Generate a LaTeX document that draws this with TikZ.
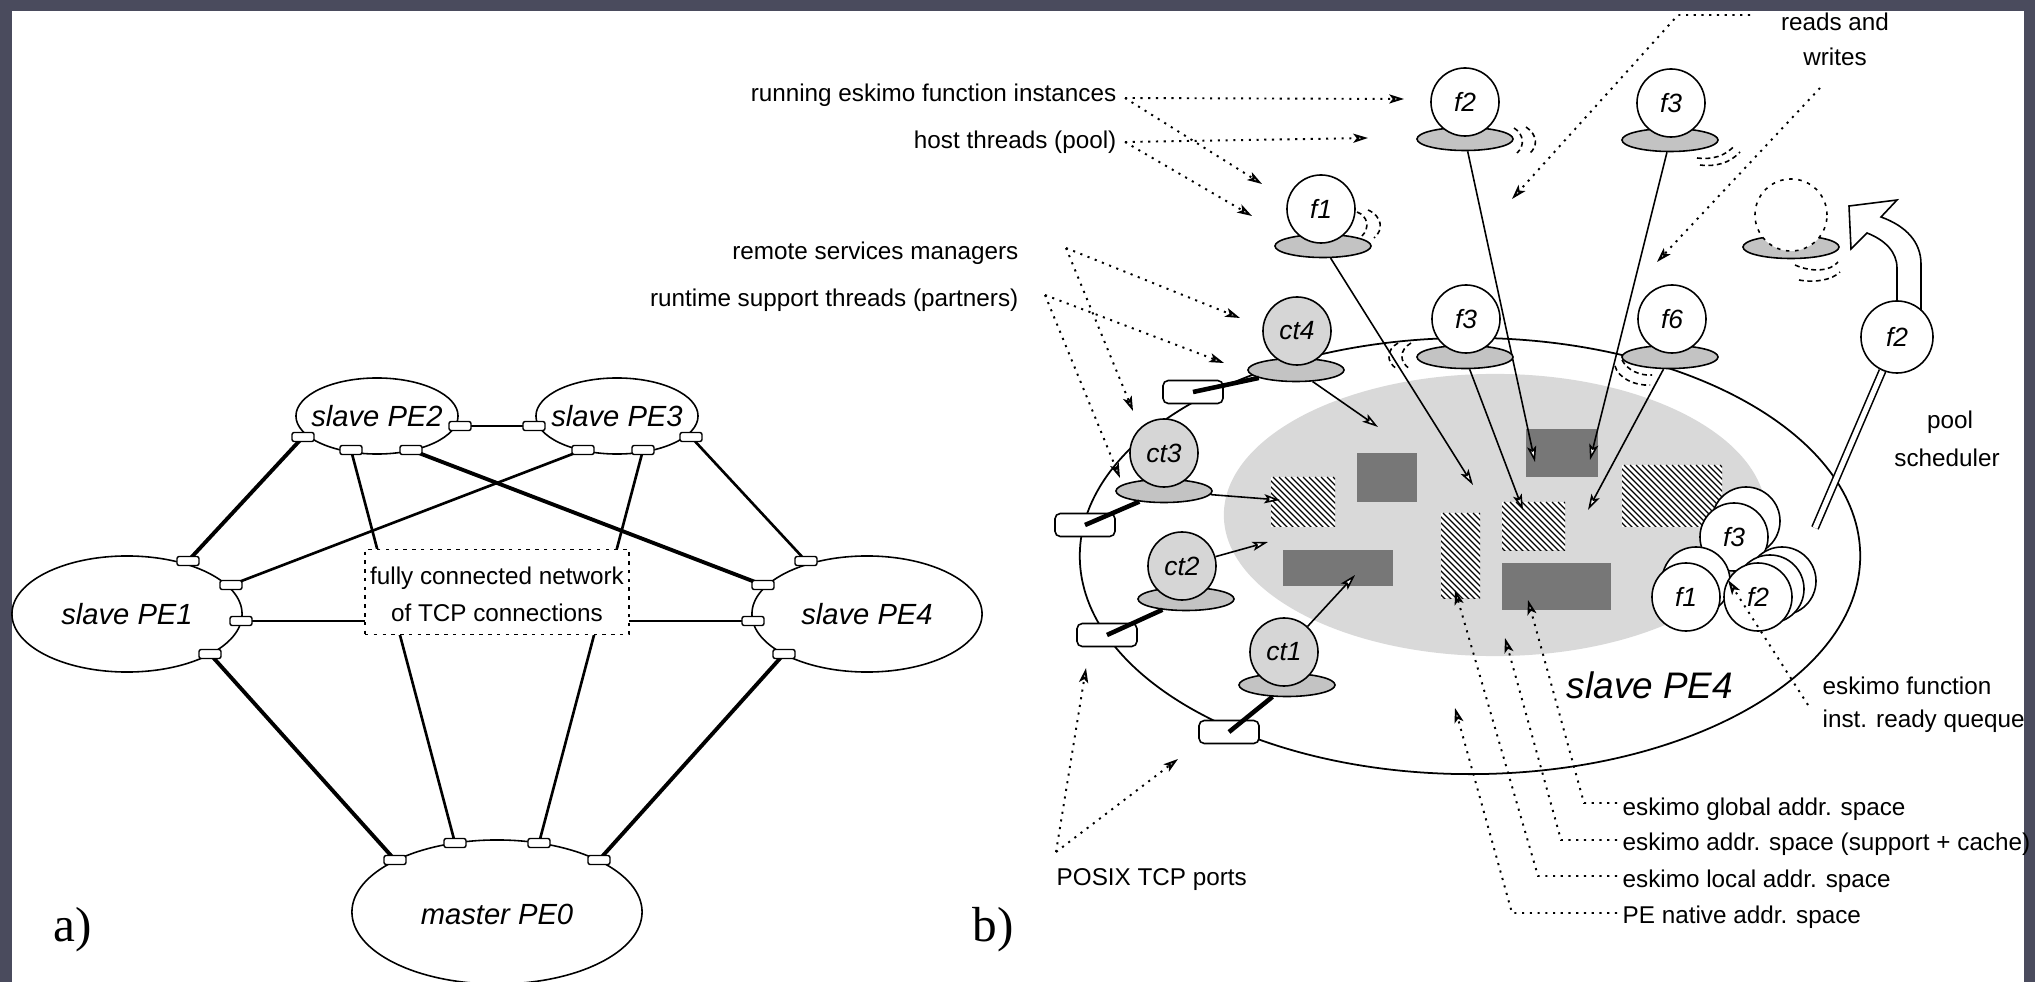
\documentclass[tikz,border=0pt]{standalone}
\usepackage{fontspec}
\setmainfont{Liberation Sans}
\newfontfamily\captionserif{Liberation Serif}
\usetikzlibrary{shapes.geometric,arrows.meta}

\definecolor{framegrey}{HTML}{4A4B5D}
\definecolor{spacegrey}{HTML}{D9D9D9}
\definecolor{globalgrey}{HTML}{777777}
\definecolor{basegrey}{HTML}{C3C3C3}
\definecolor{threadgrey}{HTML}{D6D6D6}

\pgfdeclarelayer{fills}
\pgfdeclarelayer{wires}
\pgfsetlayers{fills,wires,main}

% hatched (local address space) block: x0 y0 x1 y1
\newcommand\hatchrect[4]{%
  \begin{scope}
    \fill[white] (#1,#2) rectangle (#3,#4);
    \clip (#1,#2) rectangle (#3,#4);
    \foreach \k in {-100,-94,...,120}
      \draw[line width=0.35pt] ({#1+\k},#2) -- ++(130,130);
  \end{scope}}

\begin{document}
\begin{tikzpicture}[x=0.01cm, y=-0.01cm,
  every node/.style={inner sep=0pt},
  txt/.style={font=\fontsize{6.9}{8}\selectfont},
  pe/.style={draw, ellipse, fill=white, line width=0.45pt},
  petext/.style={font=\fontsize{8.3}{10}\selectfont\itshape},
  peport/.style={draw, fill=white, rounded corners=0.6pt, minimum width=0.22cm, minimum height=0.09cm, line width=0.4pt},
  linkthin/.style={line width=0.5pt},
  linkmed/.style={line width=0.75pt},
  linkthick/.style={line width=1.1pt},
  fthread/.style={draw, circle, fill=white, minimum size=0.68cm, line width=0.45pt, font=\fontsize{7.5}{9}\selectfont\itshape},
  cthread/.style={fthread, fill=threadgrey},
  hostbase/.style={draw, ellipse, fill=basegrey, minimum width=0.96cm, minimum height=0.23cm, line width=0.45pt},
  tcpport/.style={draw, fill=white, rounded corners=1.5pt, minimum width=0.6cm, minimum height=0.23cm, line width=0.45pt},
  access/.style={line width=0.45pt, -{Stealth[fill=white, length=4.5pt, width=2.6pt, inset=1pt]}},
  lead/.style={line width=0.55pt, dash pattern=on 0.6pt off 1.6pt},
  leadtip/.style={lead, -{Stealth[fill=white, length=4.2pt, width=2.6pt, inset=1pt]}},
  rw/.style={line width=0.45pt, dash pattern=on 1.4pt off 1pt},
  portwire/.style={line width=1.3pt},
]

\useasboundingbox (0,0) rectangle (2035,982);

% ---------------- page frame ----------------
\begin{pgfonlayer}{fills}
  \fill[framegrey] (0,0) rectangle (2035,982);
  \fill[white] (12,11) rectangle (2024,982);
\end{pgfonlayer}

% ================= a) network of PEs =================
\node[pe, minimum width=2.30cm, minimum height=1.16cm] (pe1) at (127,614) {};
\node[pe, minimum width=1.62cm, minimum height=0.76cm] (pe2) at (377,416) {};
\node[pe, minimum width=1.62cm, minimum height=0.76cm] (pe3) at (617,416) {};
\node[pe, minimum width=2.30cm, minimum height=1.16cm] (pe4) at (867,614) {};
\node[pe, minimum width=2.90cm, minimum height=1.44cm] (pe0) at (497,912) {};
\node[petext] (pe1t) at (pe1) {slave PE1};
\node[petext] (pe2t) at (pe2) {slave PE2};
\node[petext] (pe3t) at (pe3) {slave PE3};
\node[petext] (pe4t) at (pe4) {slave PE4};
\node[petext] (pe0t) at (497,914) {master PE0};

% network box
\node[draw, fill=white, dash pattern=on 1pt off 1.5pt, line width=0.5pt,
      minimum width=2.64cm, minimum height=0.85cm] (net) at (497,592) {};
\node[txt] (net1) at (497,578) {fully connected network};
\node[txt] (net2) at (497,613) {of TCP connections};

% TCP ports on each PE
\node[peport] (q11) at (188,561) {};
\node[peport] (q12) at (231,585) {};
\node[peport] (q13) at (241,621) {};
\node[peport] (q14) at (210,654) {};
\node[peport] (q21) at (303,437) {};
\node[peport] (q22) at (351,450) {};
\node[peport] (q23) at (411,450) {};
\node[peport] (q24) at (460,426) {};
\node[peport] (q31) at (534,426) {};
\node[peport] (q32) at (583,450) {};
\node[peport] (q33) at (643,450) {};
\node[peport] (q34) at (691,437) {};
\node[peport] (q41) at (806,561) {};
\node[peport] (q42) at (763,585) {};
\node[peport] (q43) at (753,621) {};
\node[peport] (q44) at (784,654) {};
\node[peport] (q01) at (395,860) {};
\node[peport] (q02) at (455,843) {};
\node[peport] (q03) at (539,843) {};
\node[peport] (q04) at (599,860) {};

\begin{pgfonlayer}{wires}
  \draw[linkthick] (q11.center) -- (q21.center);
  \draw[linkmed]   (q12.center) -- (q32.center);
  \draw[linkthin]  (q13.center) -- (q43.center);
  \draw[linkthick] (q14.center) -- (q01.center);
  \draw[linkthin]  (q24.center) -- (q31.center);
  \draw[linkmed]   (q22.center) -- (q02.center);
  \draw[linkthick] (q23.center) -- (q42.center);
  \draw[linkmed]   (q33.center) -- (q03.center);
  \draw[linkmed]   (q34.center) -- (q41.center);
  \draw[linkthick] (q44.center) -- (q04.center);
\end{pgfonlayer}

\node[font=\captionserif\fontsize{14}{16}\selectfont] (capa) at (73,930) {a)};

% ================= b) inside one slave PE =================
\begin{pgfonlayer}{fills}
  \node[draw, ellipse, line width=0.5pt, minimum width=7.80cm, minimum height=4.36cm] (pe4b) at (1470,556) {};
  \node[ellipse, fill=spacegrey, minimum width=5.42cm, minimum height=2.82cm] (espace) at (1495,515) {};
  % global (shared) blocks
  \fill[globalgrey] (1357,453) rectangle (1417,502);
  \fill[globalgrey] (1526,429) rectangle (1598,477);
  \fill[globalgrey] (1283,550) rectangle (1393,586);
  \fill[globalgrey] (1502,563) rectangle (1611,610);
  % local blocks
  \hatchrect{1271}{477}{1335}{527}
  \hatchrect{1622}{465}{1722}{527}
  \hatchrect{1502}{502}{1565}{550}
  \hatchrect{1441}{513}{1480}{598}
\end{pgfonlayer}

\node[font=\fontsize{10.5}{12}\selectfont\itshape] (pe4bt) at (1650,685) {slave PE4};

% host threads with running function instances
\node[hostbase] (f1b)  at (1323,246) {};
\node[fthread]  (f1)   at (1321,209) {f1};
\node[hostbase] (f2tb) at (1465,139) {};
\node[fthread]  (f2t)  at (1465,102) {f2};
\node[hostbase] (f3tb) at (1670,140) {};
\node[fthread]  (f3t)  at (1671,103) {f3};
\node[hostbase] (f3mb) at (1465,357) {};
\node[fthread]  (f3m)  at (1466,319) {f3};
\node[hostbase] (f6b)  at (1670,357) {};
\node[fthread]  (f6)   at (1672,319) {f6};
\node[hostbase] (ghb)  at (1791,247) {};
\node[fthread, dash pattern=on 1pt off 1.6pt, minimum size=0.72cm] (gh) at (1791,215) {};

% runtime support threads and their TCP ports
\node[tcpport] (t4) at (1193,392) {};
\node[tcpport] (t3) at (1085,525) {};
\node[tcpport] (t2) at (1107,635) {};
\node[tcpport] (t1) at (1229,732) {};
\node[hostbase] (ct4b) at (1296,370) {};
\node[cthread]  (ct4)  at (1297,331) {ct4};
\node[hostbase] (ct3b) at (1164,491) {};
\node[cthread]  (ct3)  at (1164,453) {ct3};
\node[hostbase] (ct2b) at (1186,599) {};
\node[cthread]  (ct2)  at (1182,566) {ct2};
\node[hostbase] (ct1b) at (1287,685) {};
\node[cthread]  (ct1)  at (1284,652) {ct1};
\draw[portwire] (ct4b) -- (t4.center);
\draw[portwire] (ct3b) -- (t3.center);
\draw[portwire] (ct2b) -- (t2.center);
\draw[portwire] (ct1b) -- (t1.center);

% ready queue of function instances
\node[fthread] (s3)  at (1746,521) {};
\node[fthread] (f3q) at (1734,537) {f3};
\node[fthread] (s1)  at (1696,581) {};
\node[fthread] (s2b) at (1782,581) {};
\node[fthread] (s2a) at (1770,589) {};
\node[fthread] (f1q) at (1686,597) {f1};
\node[fthread] (f2q) at (1758,597) {f2};

% instance handed over by the pool scheduler
\draw[fill=white, line width=0.45pt] (1897,312) -- (1897,268)
  .. controls (1897,252) and (1885,240) .. (1867,233) -- (1851,249) -- (1849,206)
  -- (1897,200) -- (1881,217) .. controls (1906,226) and (1921,242) .. (1921,264)
  -- (1921,312) -- cycle;
\node[fthread, minimum size=0.72cm] (f2r) at (1897,337) {f2};
\coordinate (qtail) at (1815,528);

% memory accesses
\coordinate (aF1)  at (1473,485);
\coordinate (aF2)  at (1535,462);
\coordinate (aF3)  at (1590,460);
\coordinate (aF3m) at (1523,510);
\coordinate (aF6)  at (1588,510);
\coordinate (aC4)  at (1378,427);
\coordinate (aC3)  at (1280,500);
\coordinate (aC2)  at (1268,542);
\coordinate (aC1)  at (1355,575);

\begin{pgfonlayer}{wires}
  \draw[access] (f1b)  -- (aF1);
  \draw[access] (f2tb) -- (aF2);
  \draw[access] (f3tb) -- (aF3);
  \draw[access] (f3mb) -- (aF3m);
  \draw[access] (f6b)  -- (aF6);
  \draw[access] (ct4b) -- (aC4);
  \draw[access] (ct3b) -- (aC3);
  \draw[access] (ct2)  -- (aC2);
  \draw[access] (ct1)  -- (aC1);
  \draw[double=white, double distance=0.05cm, line width=0.45pt] (qtail) -- (f2r);

  % reads and writes
  \draw[rw] (1514,128) .. controls (1524,134) and (1525,146) .. (1517,153);
  \draw[rw] (1526,127) .. controls (1538,135) and (1538,147) .. (1529,154);
  \draw[rw] (1697,158) .. controls (1712,160) and (1726,156) .. (1735,145);
  \draw[rw] (1700,165) .. controls (1716,167) and (1730,163) .. (1740,152);
  \draw[rw] (1357,212) .. controls (1368,216) and (1370,228) .. (1362,236);
  \draw[rw] (1368,210) .. controls (1382,216) and (1384,230) .. (1374,238);
  \draw[rw] (1398,343) .. controls (1386,350) and (1386,362) .. (1397,369);
  \draw[rw] (1411,343) .. controls (1399,350) and (1399,362) .. (1410,369);
  \draw[rw] (1615,366) .. controls (1618,378) and (1635,386) .. (1650,385);
  \draw[rw] (1622,360) .. controls (1627,370) and (1640,376) .. (1652,375);
  \draw[rw] (1795,265) .. controls (1810,272) and (1830,272) .. (1838,262);
  \draw[rw] (1799,280) .. controls (1815,283) and (1832,280) .. (1840,272);
\end{pgfonlayer}

% ---------------- labels and leaders ----------------
\node[txt, anchor=east] (lrun)   at (1117,95)  {running eskimo function instances};
\node[txt, anchor=east] (lhost)  at (1117,142) {host threads (pool)};
\node[txt, anchor=east] (lrsm)   at (1019,253) {remote services managers};
\node[txt, anchor=east] (lrst)   at (1019,300) {runtime support threads (partners)};
\node[txt] (lreads)  at (1835,22) {reads and};
\node[txt] (lwrites) at (1835,57) {writes};
\node[txt] (lpool)   at (1950,422) {pool};
\node[txt] (lsched)  at (1947,458) {scheduler};
\node[txt, anchor=west] (lqueue1) at (1822,686) {eskimo function};
\node[txt, anchor=west] (lqueue2) at (1822,721) {inst. ready queque};
\node[txt, anchor=west] (lglob)   at (1622,809) {eskimo global addr. space};
\node[txt, anchor=west] (lsupp)   at (1622,844) {eskimo addr. space (support + cache)};
\node[txt, anchor=west] (lloc)    at (1622,881) {eskimo local addr. space};
\node[txt, anchor=west] (lnat)    at (1622,917) {PE native addr. space};
\node[txt, anchor=west] (lposix)  at (1056,880) {POSIX TCP ports};

\coordinate (runA)   at (1125,98);
\coordinate (hostA)  at (1125,142);
\coordinate (rsmA)   at (1066,248);
\coordinate (rstA)   at (1045,295);
\coordinate (posixA) at (1056,852);

\begin{pgfonlayer}{wires}
  \draw[leadtip] (runA) -- (1404,99);
  \draw[leadtip] (runA) -- (1262,184);
  \draw[leadtip] (hostA) -- (1368,138);
  \draw[leadtip] (hostA) -- (1252,216);
  \draw[leadtip] (rsmA) -- (1240,318);
  \draw[leadtip] (rsmA) -- (1133,411);
  \draw[leadtip] (rstA) -- (1224,363);
  \draw[leadtip] (rstA) -- (1120,478);
  \draw[leadtip] (posixA) -- (1086,668);
  \draw[leadtip] (posixA) -- (1178,759);
  \draw[leadtip] (1750,15) -- (1678,15) -- (1512,199);
  \draw[leadtip] (1820,88) -- (1657,262);
  \draw[leadtip] (1617,803) -- (1584,803) -- (1528,600);
  \draw[leadtip] (1617,840) -- (1561,840) -- (1505,638);
  \draw[leadtip] (1617,876) -- (1538,876) -- (1455,590);
  \draw[leadtip] (1617,913) -- (1512,913) -- (1455,708);
\end{pgfonlayer}
\draw[leadtip] (1808,705) -- (1728,580);

\node[font=\captionserif\fontsize{14}{16}\selectfont] (capb) at (993,930) {b)};

\end{tikzpicture}
\end{document}
